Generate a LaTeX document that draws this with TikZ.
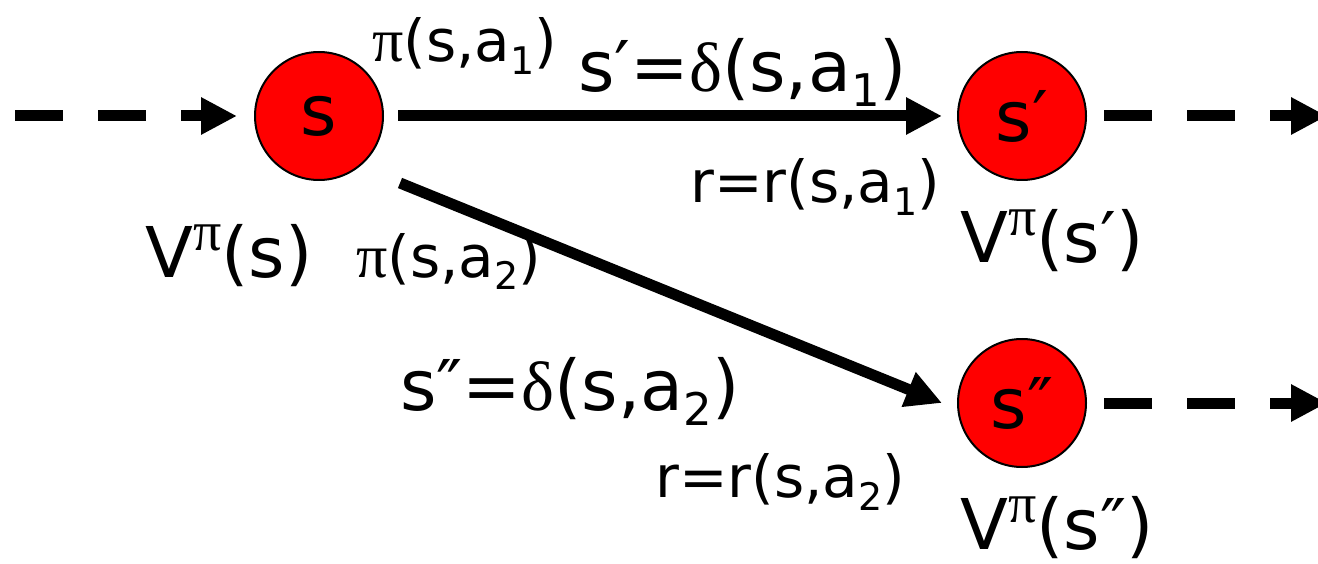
\documentclass[tikz,border=0pt]{standalone}
\usepackage{fontspec}
\setmainfont{DejaVu Sans}
\newfontfamily\grk{Liberation Serif}
\usetikzlibrary{arrows.meta,calc}
\newcommand\Bsz{\fontsize{70}{80}\selectfont}
\newcommand\Ssz{\fontsize{58}{66}\selectfont}
\newcommand\subB[1]{\raisebox{-15pt}{\fontsize{45}{45}\selectfont #1}}
\newcommand\subS[1]{\raisebox{-13pt}{\fontsize{38}{38}\selectfont #1}}
\newcommand\supP{\raisebox{27pt}{\fontsize{56}{56}\selectfont\grk π}}
\newcommand\gp{{\fontsize{62}{66}\selectfont\grk π}}
\newcommand\gd{{\grk δ}}
\tikzset{
  state/.style={circle, draw=black, line width=2pt, fill=red, minimum size=128pt, inner sep=0pt, font=\Bsz},
  big/.style={anchor=base west, inner sep=0pt, font=\Bsz},
  small/.style={anchor=base west, inner sep=0pt, font=\Ssz},
  arr/.style={line width=11pt, -{Triangle[length=36pt,width=35pt]}},
  darr/.style={arr, dash pattern=on 48pt off 35pt}
}
\begin{document}
\begin{tikzpicture}[x=1pt,y=-1pt]
\useasboundingbox (0,0) rectangle (1318,564);
\node[state] (s) at (319,116) {s};
\node[state] (s1) at (1022,116) {s′};
\node[state] (s2) at (1022,403) {s″};
\coordinate (in) at (15,116);
\coordinate (out1) at (1327,116);
\coordinate (out2) at (1327,403);
\draw[darr, shorten >=17pt] (in) -- (s);
\draw[darr, shorten <=17pt] (s1) -- (out1);
\draw[darr, shorten <=17pt] (s2) -- (out2);
\draw[arr, shorten <=14pt, shorten >=15pt] (s) -- (s1);
\draw[arr] ($(s.center)+(81,67)$) -- ($(s2.center)+(-80,0)$);
\node[small] (p1) at (372,62) {\gp(s,a\subS{1})};
\node[big] (d1) at (578,92) {s′=\gd(s,a\subB{1})};
\node[small] (r1) at (690,203) {r=r(s,a\subS{1})};
\node[big] (v0) at (145,277) {V\supP(s)};
\node[small] (p2) at (356,277) {\gp(s,a\subS{2})};
\node[big] (v1) at (960,263) {V\supP(s′)};
\node[big] (d2) at (400,410) {s″=\gd(s,a\subB{2})};
\node[small] (r2) at (655,497) {r=r(s,a\subS{2})};
\node[big] (v2) at (960,549) {V\supP(s″)};
\end{tikzpicture}
\end{document}
